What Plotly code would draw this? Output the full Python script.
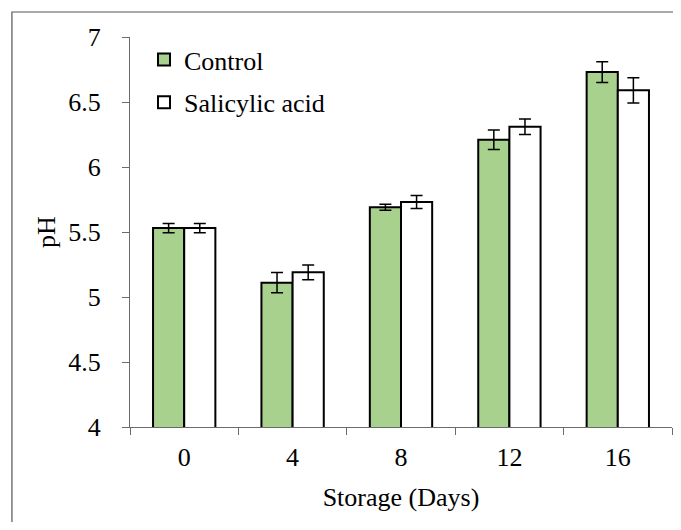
import plotly.graph_objects as go

days = ["0", "4", "8", "12", "16"]
control = [5.53, 5.11, 5.69, 6.21, 6.73]
control_err = [0.036, 0.078, 0.023, 0.075, 0.08]
salicylic = [5.53, 5.19, 5.73, 6.31, 6.59]
salicylic_err = [0.036, 0.057, 0.05, 0.06, 0.097]
y_ticks = [4, 4.5, 5, 5.5, 6, 6.5, 7]
y_ticktext = ["4", "4.5", "5", "5.5", "6", "6.5", "7"]

FONT = "Liberation Serif"
FS = 26
AX = "#6b6b6b"

fig = go.Figure()
fig.add_trace(go.Bar(
    x=days, y=control, name="Control", legendgroup="a",
    marker=dict(color="#A9D18E", line=dict(color="black", width=2)),
    error_y=dict(type="data", array=control_err, visible=True,
                 color="black", thickness=1.5, width=6),
))
fig.add_trace(go.Bar(
    x=days, y=salicylic, name="Salicylic acid", legendgroup="b",
    marker=dict(color="white", line=dict(color="black", width=2)),
    error_y=dict(type="data", array=salicylic_err, visible=True,
                 color="black", thickness=1.5, width=6),
))

# page body has an 8px margin; positions below are in figure pixels
W, H = 665, 514
L, T = 122, 29
PR, PB = 663.7, 419          # plot right / bottom in figure px
R, B = W - PR, H - PB
pw = PR - L
ph = PB - T

def px_x(x):
    return (x - L) / pw

def px_y(y):
    return (PB - y) / ph

fig.update_layout(
    width=W, height=H,
    margin=dict(l=L, r=R, t=T, b=B, pad=0),
    paper_bgcolor="white", plot_bgcolor="white",
    barmode="group", bargap=0.425, bargroupgap=0,
    font=dict(family=FONT, size=FS, color="black"),
    showlegend=True,
    legend=dict(
        x=px_x(136), y=px_y(28),
        xanchor="left", yanchor="top",
        bgcolor="rgba(0,0,0,0)", borderwidth=0,
        font=dict(family=FONT, size=FS, color="black"),
        traceorder="grouped", tracegroupgap=6, itemwidth=30,
    ),
    xaxis=dict(
        type="category", showline=True, linecolor=AX, linewidth=1.3,
        ticks="outside", tickson="boundaries", ticklen=7, tickcolor=AX, tickwidth=1.3,
        showgrid=False, zeroline=False, ticklabelstandoff=7,
        tickfont=dict(family=FONT, size=FS, color="black"),
        title=dict(text="Storage (Days)", font=dict(family=FONT, size=FS, color="black"), standoff=16),
    ),
    yaxis=dict(
        range=[4, 7], showline=True, linecolor=AX, linewidth=1.3,
        ticks="outside", ticklen=7, tickcolor=AX, tickwidth=1.3,
        tickvals=y_ticks, ticktext=y_ticktext,
        showgrid=False, zeroline=False, ticklabelstandoff=16,
        tickfont=dict(family=FONT, size=FS, color="black"),
        title=dict(text="pH", font=dict(family=FONT, size=FS, color="black"), standoff=5),
    ),
    shapes=[dict(
        type="rect", xref="paper", yref="paper",
        x0=px_x(4), x1=px_x(720),
        y0=px_y(560), y1=px_y(4),
        line=dict(color="#555555", width=1.2), fillcolor="rgba(0,0,0,0)", layer="below",
    )],
)

fig.write_html("out.html")
